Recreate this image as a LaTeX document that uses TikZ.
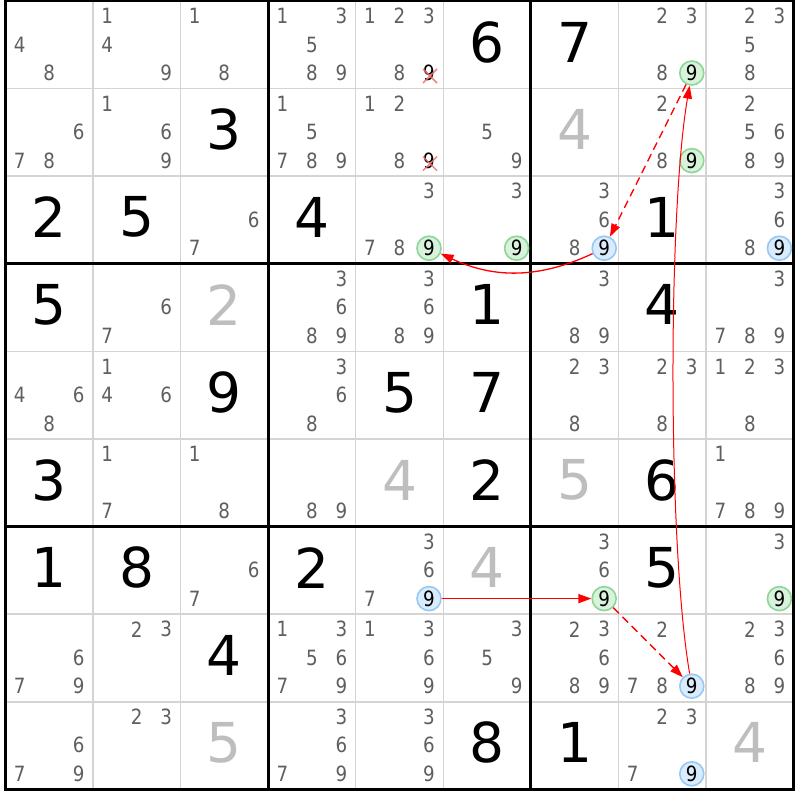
\documentclass[tikz,border=0pt]{standalone}
\usepackage{fontspec}
\setmainfont{DejaVu Sans}
\newfontfamily\candfont[FakeStretch=0.87]{DejaVu Sans}
\usetikzlibrary{arrows.meta,calc}
\definecolor{candgray}{RGB}{95,95,95}
\definecolor{solvedgray}{RGB}{190,190,190}
\definecolor{thingrid}{RGB}{212,212,212}
\definecolor{hlblue}{RGB}{150,200,245}
\definecolor{hlbluefill}{RGB}{218,236,252}
\definecolor{hlgreen}{RGB}{140,214,150}
\definecolor{hlgreenfill}{RGB}{216,242,220}
\definecolor{chainred}{RGB}{255,0,0}
\definecolor{crossred}{RGB}{240,110,110}
\tikzset{
  candtext/.style={text=candgray, font=\candfont\fontsize{21}{21}\selectfont, inner sep=0pt},
  giventext/.style={text=black, font=\fontsize{55}{55}\selectfont, inner sep=0pt},
  solvedtext/.style={giventext, text=solvedgray},
  hlbase/.style={circle, line width=1.6pt, minimum size=24pt, inner sep=0pt, text=black, font=\candfont\fontsize{21}{21}\selectfont},
  hlb/.style={hlbase, draw=hlblue, fill=hlbluefill},
  hlg/.style={hlbase, draw=hlgreen, fill=hlgreenfill},
  crosstext/.style={candtext, text=black},
  crossmark/.style={draw=crossred, line width=1.5pt, opacity=0.85},
  thinline/.style={draw=thingrid, line width=1.5pt},
  thickline/.style={draw=black, line width=3pt},
  strongarrow/.style={draw=chainred, line width=1.3pt, -{Triangle[length=13pt,width=9pt]}},
  weakarrow/.style={strongarrow, dash pattern=on 8pt off 5pt}
}
\newcommand\sdcand[3]{%
  \pgfmathsetmacro\sdx{5.3+(#2-1)*87.6+43.8+(mod(#3-1,3)-1)*29.5}%
  \pgfmathsetmacro\sdy{1+(#1-1)*87.6+43.5+(floor((#3-1)/3)-1)*28.5}%
  \node[candtext] (k#1#2#3) at (\sdx,\sdy) {#3};}
\newcommand\sdcands[3]{\foreach \sdd in {#3}{\sdcand{#1}{#2}{\sdd}}}
\newcommand\sdgiven[3]{%
  \pgfmathsetmacro\sdx{5.3+(#2-1)*87.6+43.8}%
  \pgfmathsetmacro\sdy{1+(#1-1)*87.6+41}%
  \node[giventext] (g#1#2) at (\sdx,\sdy) {#3};}
\newcommand\sdsolved[3]{%
  \pgfmathsetmacro\sdx{5.3+(#2-1)*87.6+43.8}%
  \pgfmathsetmacro\sdy{1+(#1-1)*87.6+41}%
  \node[solvedtext] (g#1#2) at (\sdx,\sdy) {#3};}
\newcommand\sdhl[3]{%
  \pgfmathsetmacro\sdx{5.3+(#2-1)*87.6+43.8+29.5}%
  \pgfmathsetmacro\sdy{1+(#1-1)*87.6+43.5+28.5}%
  \node[#3] (h#1#2) at (\sdx,\sdy) {9};}
\newcommand\sdcross[2]{%
  \pgfmathsetmacro\sdx{5.3+(#2-1)*87.6+43.8+29.5}%
  \pgfmathsetmacro\sdy{1+(#1-1)*87.6+43.5+28.5}%
  \node[crosstext] (x#1#2) at (\sdx,\sdy) {9};
  \draw[crossmark] ($(x#1#2)+(-6,-4)$) -- ($(x#1#2)+(8,10)$);
  \draw[crossmark] ($(x#1#2)+(-6,10)$) -- ($(x#1#2)+(8,-4)$);}
\begin{document}
\begin{tikzpicture}[x=1pt,y=-1pt]
\useasboundingbox (0,0) rectangle (800,800);
\fill[white] (0,0) rectangle (800,800);
% thin grid
\foreach \i in {1,...,8}{
  \draw[thinline] ({5.3+\i*87.6},1) -- ({5.3+\i*87.6},789.4);
  \draw[thinline] (5.3,{1+\i*87.6}) -- (793.7,{1+\i*87.6});
}
% thick grid
\foreach \i in {3,6}{
  \draw[thickline] ({5.3+\i*87.6},1) -- ({5.3+\i*87.6},789.4);
  \draw[thickline] (5.3,{1+\i*87.6}) -- (793.7,{1+\i*87.6});
}
\draw[thickline] (5.3,1) rectangle (793.7,789.4);
% row 1
\sdcands{1}{1}{4,8}
\sdcands{1}{2}{1,4,9}
\sdcands{1}{3}{1,8}
\sdcands{1}{4}{1,3,5,8,9}
\sdcands{1}{5}{1,2,3,8} \sdcross{1}{5}
\sdgiven{1}{6}{6}
\sdgiven{1}{7}{7}
\sdcands{1}{8}{2,3,8} \sdhl{1}{8}{hlg}
\sdcands{1}{9}{2,3,5,8}
% row 2
\sdcands{2}{1}{6,7,8}
\sdcands{2}{2}{1,6,9}
\sdgiven{2}{3}{3}
\sdcands{2}{4}{1,5,7,8,9}
\sdcands{2}{5}{1,2,8} \sdcross{2}{5}
\sdcands{2}{6}{5,9}
\sdsolved{2}{7}{4}
\sdcands{2}{8}{2,8} \sdhl{2}{8}{hlg}
\sdcands{2}{9}{2,5,6,8,9}
% row 3
\sdgiven{3}{1}{2}
\sdgiven{3}{2}{5}
\sdcands{3}{3}{6,7}
\sdgiven{3}{4}{4}
\sdcands{3}{5}{3,7,8} \sdhl{3}{5}{hlg}
\sdcands{3}{6}{3} \sdhl{3}{6}{hlg}
\sdcands{3}{7}{3,6,8} \sdhl{3}{7}{hlb}
\sdgiven{3}{8}{1}
\sdcands{3}{9}{3,6,8} \sdhl{3}{9}{hlb}
% row 4
\sdgiven{4}{1}{5}
\sdcands{4}{2}{6,7}
\sdsolved{4}{3}{2}
\sdcands{4}{4}{3,6,8,9}
\sdcands{4}{5}{3,6,8,9}
\sdgiven{4}{6}{1}
\sdcands{4}{7}{3,8,9}
\sdgiven{4}{8}{4}
\sdcands{4}{9}{3,7,8,9}
% row 5
\sdcands{5}{1}{4,6,8}
\sdcands{5}{2}{1,4,6}
\sdgiven{5}{3}{9}
\sdcands{5}{4}{3,6,8}
\sdgiven{5}{5}{5}
\sdgiven{5}{6}{7}
\sdcands{5}{7}{2,3,8}
\sdcands{5}{8}{2,3,8}
\sdcands{5}{9}{1,2,3,8}
% row 6
\sdgiven{6}{1}{3}
\sdcands{6}{2}{1,7}
\sdcands{6}{3}{1,8}
\sdcands{6}{4}{8,9}
\sdsolved{6}{5}{4}
\sdgiven{6}{6}{2}
\sdsolved{6}{7}{5}
\sdgiven{6}{8}{6}
\sdcands{6}{9}{1,7,8,9}
% row 7
\sdgiven{7}{1}{1}
\sdgiven{7}{2}{8}
\sdcands{7}{3}{6,7}
\sdgiven{7}{4}{2}
\sdcands{7}{5}{3,6,7} \sdhl{7}{5}{hlb}
\sdsolved{7}{6}{4}
\sdcands{7}{7}{3,6} \sdhl{7}{7}{hlg}
\sdgiven{7}{8}{5}
\sdcands{7}{9}{3} \sdhl{7}{9}{hlg}
% row 8
\sdcands{8}{1}{6,7,9}
\sdcands{8}{2}{2,3}
\sdgiven{8}{3}{4}
\sdcands{8}{4}{1,3,5,6,7,9}
\sdcands{8}{5}{1,3,6,9}
\sdcands{8}{6}{3,5,9}
\sdcands{8}{7}{2,3,6,8,9}
\sdcands{8}{8}{2,7,8} \sdhl{8}{8}{hlb}
\sdcands{8}{9}{2,3,6,8,9}
% row 9
\sdcands{9}{1}{6,7,9}
\sdcands{9}{2}{2,3}
\sdsolved{9}{3}{5}
\sdcands{9}{4}{3,6,7,9}
\sdcands{9}{5}{3,6,9}
\sdgiven{9}{6}{8}
\sdgiven{9}{7}{1}
\sdcands{9}{8}{2,3,7} \sdhl{9}{8}{hlb}
\sdsolved{9}{9}{4}
% chain
\draw[strongarrow] (h75) -- (h77);
\draw[weakarrow] (h77) -- (h88);
\draw[strongarrow, line width=1pt] (h88) .. controls ($(h88)+(-24,-140)$) and ($(h18)+(-24,140)$) .. (h18);
\draw[weakarrow] (h18) -- (h37);
\draw[strongarrow] (h37) to[bend left=25] (h35);
\end{tikzpicture}
\end{document}
